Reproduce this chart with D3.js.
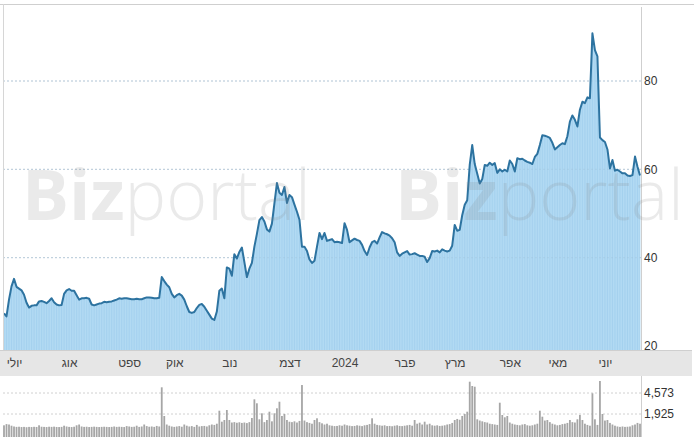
<!DOCTYPE html>
<html><head><meta charset="utf-8">
<script src="https://cdn.jsdelivr.net/npm/d3@7"></script>
<style>
html,body{margin:0;padding:0;background:#fff;}
svg{display:block;font-family:"Liberation Sans",Arial,sans-serif;}
</style></head>
<body><svg id="c" width="694" height="437"></svg>
<script>
const prices = [
27.4,26.7,30.5,33.5,35.2,33.4,33.0,32.6,31.6,29.8,
28.7,29.1,29.2,29.2,30.1,30.2,30.0,29.7,30.2,30.8,
29.9,29.4,29.2,29.3,31.8,32.6,32.9,32.5,32.5,31.5,
30.5,30.8,30.8,30.9,30.7,29.4,29.2,29.4,29.6,29.7,
30.0,29.9,30.0,30.1,30.3,30.5,30.8,30.7,30.8,30.8,
30.7,30.6,30.6,30.7,30.6,30.6,30.8,31.0,31.0,30.9,
30.8,30.8,30.9,35.6,34.7,33.9,33.3,31.8,31.0,31.5,
31.8,31.4,30.5,29.0,27.7,27.5,27.7,28.6,29.3,29.5,
28.9,28.0,27.1,26.2,25.9,27.8,32.5,33.0,30.8,37.8,
37.5,35.9,40.8,39.8,41.3,42.3,39.0,35.6,37.5,38.8,
42.5,45.4,48.5,49.2,48.2,46.4,45.9,47.7,52.3,56.9,
54.7,54.2,56.0,52.4,54.2,53.7,52.0,50.4,48.6,42.5,
42.5,41.5,39.6,38.8,39.3,42.5,45.6,44.2,45.6,43.8,
44.0,44.2,43.5,43.6,43.5,43.3,47.8,46.3,43.5,43.9,
44.3,44.0,43.8,42.9,41.5,40.6,42.3,43.5,43.8,43.2,
44.6,45.8,45.5,45.3,45.0,44.4,43.5,41.2,40.4,40.9,
41.2,41.5,40.7,40.8,41.0,40.7,40.4,40.4,40.2,39.0,
39.9,41.5,41.4,41.6,41.2,41.9,41.6,41.4,41.6,42.7,
47.4,46.1,46.3,49.6,52.0,53.0,61.0,65.5,61.2,59.0,
56.8,57.8,61.0,60.8,61.5,61.0,61.4,59.2,60.0,59.5,
59.9,59.5,62.0,61.2,59.5,62.5,62.3,62.4,62.0,61.7,
61.5,61.2,62.8,63.5,65.5,67.7,67.6,67.4,67.1,66.0,
64.5,65.0,65.5,65.9,65.7,67.5,70.8,72.2,71.2,69.7,
73.5,75.3,75.0,76.3,76.1,90.8,87.0,85.6,67.2,66.6,
66.2,64.5,60.2,62.1,59.7,59.9,59.5,59.1,59.1,58.6,
58.5,58.7,62.9,60.6,58.6
];
const volumes = [
500,650,600,450,350,300,320,280,300,260,
300,280,310,290,500,320,300,280,320,300,
330,290,280,300,450,350,300,280,320,500,
600,350,300,320,280,300,330,300,280,300,
320,300,280,300,350,300,320,300,280,400,
350,300,320,450,300,350,600,400,320,350,
300,420,350,5290,1673,600,450,350,300,350,
400,320,600,450,350,400,300,550,350,400,
420,350,500,600,550,700,2341,955,1169,2430,
1169,850,900,820,880,800,850,780,900,1421,
3777,3274,1257,2013,900,1169,2215,1000,2013,2643,
3475,1673,1925,1169,950,900,1000,850,1050,5580,
1100,900,800,700,1169,1383,900,750,600,700,
500,450,400,420,500,450,600,500,450,400,
420,500,450,400,500,550,650,1383,700,550,
500,450,500,400,420,380,450,500,420,400,
450,500,550,450,1169,700,828,600,955,600,
700,500,450,500,420,450,500,600,650,800,
1169,1300,1200,1673,1925,2215,5998,5455,5366,1257,
1100,1000,900,850,700,650,600,550,3350,1799,
1509,1673,850,700,600,550,500,600,650,500,
450,500,600,700,2341,1585,1100,1169,900,700,
600,500,550,650,700,800,1169,900,850,1257,
1799,1169,700,550,450,4535,1257,550,6086,1925,
1100,1169,800,600,450,350,300,350,300,320,
350,500,600,800,700
];
const monthLabels = ["יולי","אוג","ספט","אוק","נוב","דצמ","2024","פבר","מרץ","אפר","מאי","יוני"];
const monthIdx = [4,26,50,68,90,114,136,160,180,202,221,240];
const priceTicks = [20,40,60,80];
const volTicks = [1925,4573];

const svg = d3.select("#c");
const W = 694, H = 437;
const plotL = 3, plotR = 641, plotT = 4, plotB = 350;
const bandT = 350, bandB = 376;
const volT = 376, volB = 437;
const N = prices.length;

const x = d3.scaleLinear().domain([0, N-1]).range([4, 640]);
const y = d3.scaleLinear().domain([20, 80]).range([346, 81]);
const yv = d3.scaleLinear().domain([1925, 4573]).range([414, 393]);

svg.append("rect").attr("x",0).attr("y",0).attr("width",W).attr("height",H).attr("fill","#fff");

// gridlines price
svg.append("g").selectAll("line").data(priceTicks.filter(d=>d>20)).join("line")
  .attr("x1",plotL).attr("x2",plotR).attr("y1",d=>y(d)).attr("y2",d=>y(d))
  .attr("stroke","#c9d3dc").attr("stroke-width",1).attr("stroke-dasharray","2,2");

// area
const area = d3.area().x((d,i)=>x(i)).y0(plotB).y1(d=>y(d));
svg.append("path").datum(prices).attr("d",area).attr("fill","#b2daf3");
svg.append("g").selectAll("line").data(prices).join("line")
  .attr("x1",(d,i)=>x(i)).attr("x2",(d,i)=>x(i)).attr("y1",d=>y(d)).attr("y2",plotB)
  .attr("stroke","#9fcdec").attr("stroke-width",0.7);
svg.append("g").selectAll("line").data(priceTicks.filter(d=>d>20)).join("line")
  .attr("x1",plotL).attr("x2",plotR).attr("y1",d=>y(d)).attr("y2",d=>y(d))
  .attr("stroke","#9fbfd6").attr("stroke-opacity",0.35).attr("stroke-width",1).attr("stroke-dasharray","2,2");
const line = d3.line().x((d,i)=>x(i)).y(d=>y(d));
svg.append("path").datum(prices).attr("d",line).attr("fill","none")
  .attr("stroke","#2d73a0").attr("stroke-width",2).attr("stroke-linejoin","round");

// x band
svg.append("rect").attr("x",0).attr("y",bandT).attr("width",W-2).attr("height",bandB-bandT).attr("fill","#e6e6e6");
svg.append("line").attr("x1",0).attr("x2",W-2).attr("y1",bandT+0.5).attr("y2",bandT+0.5).attr("stroke","#cfcfcf");

const xAxis = d3.axisBottom(x).tickValues(monthIdx).tickSize(0)
  .tickFormat((d,i)=>monthLabels[i]);
const gx = svg.append("g").attr("transform",`translate(0,${bandT+5})`).call(xAxis);
gx.select(".domain").remove();
gx.selectAll("text").attr("font-size",12).attr("fill","#444")
  .attr("font-family","'Liberation Sans',Arial,sans-serif");

// volume
svg.append("g").selectAll("line").data(volTicks).join("line")
  .attr("x1",plotL).attr("x2",plotR).attr("y1",d=>yv(d)).attr("y2",d=>yv(d))
  .attr("stroke","#d0d0d0").attr("stroke-dasharray","2,2");
svg.append("g").selectAll("rect").data(volumes).join("rect")
  .attr("x",(d,i)=>x(i)-0.9).attr("width",1.8)
  .attr("y",d=>yv(d)).attr("height",d=>volB-yv(d))
  .attr("fill","#a6a6a6");

// borders
svg.append("line").attr("x1",0).attr("x2",W).attr("y1",plotT+0.5).attr("y2",plotT+0.5).attr("stroke","#cfcfcf");
svg.append("line").attr("x1",plotL+0.5).attr("x2",plotL+0.5).attr("y1",plotT).attr("y2",plotB).attr("stroke","#d6d6d6");
svg.append("line").attr("x1",plotR+0.5).attr("x2",plotR+0.5).attr("y1",plotT+3).attr("y2",plotB).attr("stroke","#cfcfcf");
svg.append("line").attr("x1",plotR+0.5).attr("x2",plotR+0.5).attr("y1",bandB).attr("y2",volB).attr("stroke","#cfcfcf");

// watermark (drawn before right-axis labels)
[22, 395].forEach(wx=>{
  const t = svg.append("text").attr("x",wx).attr("y",220)
    .attr("font-size",70).attr("fill","#808080").attr("fill-opacity",0.17)
    .attr("font-family","'Open Sans','Liberation Sans',Arial,sans-serif");
  t.append("tspan").attr("font-weight",700).text("Biz");
  t.append("tspan").attr("font-weight",300).text("portal");
});

// axes right
const ay = d3.axisRight(y).tickValues(priceTicks).tickSize(0).tickPadding(3);
const gy = svg.append("g").attr("transform",`translate(${plotR},0)`).call(ay);
gy.select(".domain").remove();
gy.selectAll("text").attr("font-size",12).attr("fill","#333").attr("font-family","'Liberation Sans',Arial,sans-serif");

const av = d3.axisRight(yv).tickValues(volTicks).tickSize(0).tickPadding(3).tickFormat(d3.format(","));
const gv = svg.append("g").attr("transform",`translate(${plotR},0)`).call(av);
gv.select(".domain").remove();
gv.selectAll("text").attr("font-size",12).attr("fill","#333").attr("font-family","'Liberation Sans',Arial,sans-serif");
</script></body></html>
